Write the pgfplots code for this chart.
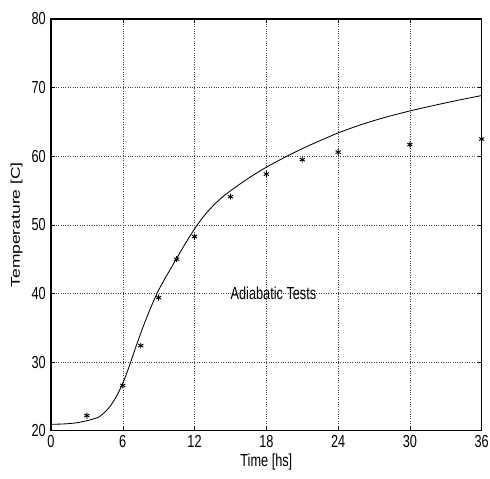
\documentclass[border=0pt]{standalone}
\usepackage{fontspec}
\usepackage{graphicx}
\setmainfont{Liberation Sans}[FakeStretch=0.73]
\newfontfamily\ylabfont{Liberation Sans}
\usepackage{pgfplots}
\pgfplotsset{compat=1.18}
\begin{document}
\begin{tikzpicture}
\begin{axis}[
  scale only axis,
  width=430.7bp, height=411.7bp,
  xmin=0, xmax=36, ymin=20, ymax=80,
  xtick={0,6,...,36}, ytick={20,30,...,80},
  tick align=inside,
  tick pos=both,
  major tick length=4bp,
  grid=major,
  major grid style={dotted, black!75, line width=0.5pt},
  axis line style={line width=1.1pt},
  every tick/.style={black, line width=0.5pt},
  /pgf/number format/assume math mode=true,
  tick label style={font=\fontsize{17.5}{19}\selectfont},
  xticklabel style={inner sep=1bp, yshift=-3bp},
  yticklabel style={inner sep=1bp, xshift=-4bp},
  label style={font=\fontsize{17.5}{19}\selectfont},
  xlabel={Time [hs]},
  ylabel={\scalebox{1}[0.73]{\ylabfont\fontsize{17.5}{19}\selectfont Temperature [C]}},
  xlabel style={at={(rel axis cs:0.5,0)}, anchor=north, yshift=-20bp},
  ylabel style={at={(rel axis cs:0,0.5)}, anchor=south, yshift=25bp},
]
\coordinate (ll) at (rel axis cs:0,0);
\coordinate (ur) at (rel axis cs:1,1);
\addplot[black, line width=0.85pt, smooth, tension=0.5, no marks] coordinates {
(0,20.93) (1,20.98) (2,21.12) (3,21.45) (3.5,21.7) (4,22.0) (4.5,22.7)
(5,23.7) (5.5,25.1) (6,26.9) (6.5,29.2) (7,31.75) (7.5,34.2) (8,36.5)
(8.5,38.6) (9,40.5) (9.5,42.1) (10,43.6) (10.5,45.1) (11,46.6) (11.5,48.05)
(12,49.4) (12.5,50.65) (13,51.75) (13.5,52.7) (14,53.55) (14.5,54.3)
(15,54.95) (16,56.2) (17,57.35) (18,58.4) (19,59.35) (20,60.25) (21,61.1)
(22,61.9) (23,62.65) (24,63.4) (26,64.65) (28,65.7) (30,66.6) (32,67.4)
(34,68.15) (36,68.85)
};
\addplot[only marks, mark=asterisk, mark size=3pt, black, line width=0.9pt] coordinates {
(3,22.2) (6,26.6) (7.5,32.4) (9,39.4) (10.5,45.0) (12,48.3) (15,54.1)
(18,57.4) (21,59.5) (24,60.6) (30,61.7) (36,62.5)
};
\node[anchor=west, font=\fontsize{17.5}{19}\selectfont, inner sep=0pt] at (axis cs:15,40) {Adiabatic Tests};
\end{axis}
\pgfresetboundingbox
\path ([shift={(-51bp,-47.5bp)}]ll) rectangle ([shift={(8.3bp,19bp)}]ur);
\end{tikzpicture}
\end{document}
